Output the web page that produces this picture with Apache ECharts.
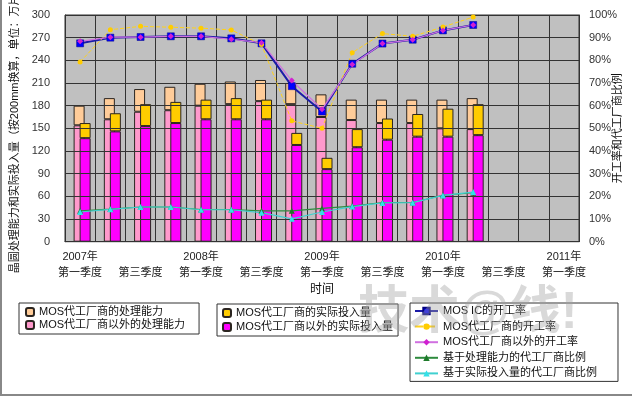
<!DOCTYPE html>
<html>
<head>
<meta charset="utf-8">
<script src="https://cdn.jsdelivr.net/npm/echarts@6/dist/echarts.min.js"></script>
<style>
  html, body { margin: 0; padding: 0; background: #fff; }
  #chart { width: 632px; height: 397px; }
</style>
</head>
<body>
<div id="chart"></div>
<script>
const FONT = "'Liberation Sans', 'Noto Sans CJK SC', sans-serif";

// 2007 Q1 .. 2011 Q1
const quarters = ['2007Q1', '2007Q2', '2007Q3', '2007Q4', '2008Q1', '2008Q2', '2008Q3', '2008Q4',
  '2009Q1', '2009Q2', '2009Q3', '2009Q4', '2010Q1', '2010Q2', '2010Q3', '2010Q4', '2011Q1'];
const tickLabels = ['2007年\n第一季度', '', ' \n第三季度', '', '2008年\n第一季度', '', ' \n第三季度', '',
  '2009年\n第一季度', '', ' \n第三季度', '', '2010年\n第一季度', '', ' \n第三季度', '', '2011年\n第一季度'];
const leftTicks = [0, 30, 60, 90, 120, 150, 180, 210, 240, 270, 300];

// stacked bars, 万片
const capOther = [154, 162, 172, 174, 180, 182, 186, 182, 165, 161, 157, 157, 150, 149];
const capFoundry = [26, 28, 30, 31, 29, 30, 28, 28, 30, 27, 31, 31, 38, 41];
const actOther = [137, 146, 153, 157, 162, 162, 162, 128, 96, 125, 135, 139, 139, 141];
const actFoundry = [20, 24, 29, 28, 26, 28, 26, 16, 15, 24, 28, 30, 37, 41];

// lines, %
const mosIcRate = [87.5, 90, 90.3, 90.6, 90.6, 89.7, 87.5, 68.6, 57.4, 78.5, 87.4, 89.1, 93.2, 95.6];
const foundryRate = [79.3, 93.5, 95, 94.6, 94.2, 93.4, 87, 53.3, 50, 83.4, 91.8, 90.6, 94.7, 99.1];
const otherRate = [88.4, 90.2, 90.2, 90.6, 90.6, 89.3, 87.8, 71.1, 58.4, 78.2, 87.4, 89.1, 93.2, 95.6];
const capShare = [13.6, 14.4, 15.3, 15.3, 14.2, 14.2, 13.6, 13.6, 14.7, 15.7, 17.3, 17.3, 20.5, 21.6];
const actShare = [13.1, 14.3, 15.3, 15.3, 14.1, 14.1, 12.8, 10.1, 13.1, 15.5, 17.1, 17.2, 20.4, 21.9];

const chart = echarts.init(document.getElementById('chart'));

const barBase = {
  type: 'bar',
  barWidth: 11,
  barGap: '-45.45%',
  itemStyle: {borderColor: '#2b2520', borderWidth: 1},
};
const lineBase = {
  type: 'line',
  yAxisIndex: 1,
  z: 5,
};
const legendBase = {
  orient: 'vertical',
  borderColor: '#333',
  borderWidth: 1,
  backgroundColor: '#fff',
  itemTextGap: 4,
  textStyle: {fontSize: 11, lineHeight: 12, color: '#111', fontFamily: FONT},
};

chart.setOption({
  backgroundColor: '#fff',
  animation: false,
  textStyle: {fontFamily: FONT},
  grid: {left: 65, right: 53, top: 15, bottom: 155.3, show: true,
    backgroundColor: '#c0c0c0', borderColor: '#333', borderWidth: 1, outerBoundsMode: 'none'},
  xAxis: {
    type: 'category',
    data: quarters,
    z: 3,
    name: '时间',
    nameLocation: 'middle',
    nameGap: 42,
    nameMoveOverlap: false,
    nameTextStyle: {fontSize: 12, color: '#111', fontFamily: FONT},
    axisLine: {lineStyle: {color: '#333'}},
    axisTick: {show: false},
    splitLine: {show: true, interval: 0, lineStyle: {color: '#333', width: 1}},
    axisLabel: {
      interval: 0, margin: 8, fontSize: 11, lineHeight: 15.5, color: '#222', fontFamily: FONT,
      verticalAlign: 'top',
      formatter: (v, i) => tickLabels[i],
    },
  },
  yAxis: [{
    type: 'value',
    min: leftTicks[0],
    max: leftTicks[leftTicks.length - 1],
    interval: 30,
    z: 3,
    name: '晶圆处理能力和实际投入量（按200mm换算，单位：万片）',
    nameLocation: 'middle',
    nameRotate: 90,
    nameGap: 45,
    nameMoveOverlap: false,
    nameTextStyle: {fontSize: 11, color: '#111', fontFamily: FONT},
    axisLine: {show: true, lineStyle: {color: '#333'}},
    axisTick: {show: false},
    splitLine: {show: true, lineStyle: {color: '#333', width: 1}},
    axisLabel: {margin: 15, fontSize: 11, color: '#333', fontFamily: FONT},
  }, {
    type: 'value',
    min: 0,
    max: 100,
    interval: 10,
    z: 3,
    name: '开工率和代工厂商比例',
    nameLocation: 'middle',
    nameRotate: 90,
    nameGap: 33,
    nameMoveOverlap: false,
    nameTextStyle: {fontSize: 11, color: '#111', fontFamily: FONT},
    axisLine: {show: true, lineStyle: {color: '#333'}},
    axisTick: {show: false},
    splitLine: {show: false},
    axisLabel: {margin: 10, fontSize: 11, color: '#333', fontFamily: FONT, formatter: '{value}%'},
  }],
  legend: [
    Object.assign({}, legendBase, {
      data: ['MOS代工厂商的处理能力', 'MOS代工厂商以外的处理能力'],
      left: 19, top: 303, padding: [3, 14, 3, 6], itemWidth: 8, itemHeight: 8, itemGap: 1,
    }),
    Object.assign({}, legendBase, {
      data: ['MOS代工厂商的实际投入量', 'MOS代工厂商以外的实际投入量'],
      left: 217, top: 304, padding: [3, 5, 3, 5], itemWidth: 8, itemHeight: 8, itemGap: 2,
    }),
    Object.assign({}, legendBase, {
      data: ['MOS IC的开工率', 'MOS代工厂商的开工率', 'MOS代工厂商以外的开工率',
        '基于处理能力的代工厂商比例', '基于实际投入量的代工厂商比例'],
      left: 410, top: 303, padding: [2, 21, 2, 4], itemWidth: 23, itemHeight: 8, itemGap: 3.6,
      itemTextGap: 1,
    }),
  ],
  graphic: [{
    type: 'rect',
    silent: true,
    shape: {x: 1, y: -10, width: 700, height: 405},
    style: {fill: 'none', stroke: '#888', lineWidth: 2},
    z: 50,
  }, {
    type: 'text',
    left: 358,
    top: 288,
    z: 100,
    silent: true,
    style: {text: '技术@线!', fontSize: 51, fontWeight: 'bold', fontFamily: FONT,
      fill: 'rgba(160,160,160,0.4)'},
  }],
  series: [
    Object.assign({}, barBase, {name: 'MOS代工厂商以外的处理能力', stack: 'cap', data: capOther,
      itemStyle: Object.assign({}, barBase.itemStyle, {color: '#ff99cc'})}),
    Object.assign({}, barBase, {name: 'MOS代工厂商的处理能力', stack: 'cap', data: capFoundry,
      itemStyle: Object.assign({}, barBase.itemStyle, {color: '#ffcc99'})}),
    Object.assign({}, barBase, {name: 'MOS代工厂商以外的实际投入量', stack: 'act', data: actOther,
      itemStyle: Object.assign({}, barBase.itemStyle, {color: '#ff00ff'})}),
    Object.assign({}, barBase, {name: 'MOS代工厂商的实际投入量', stack: 'act', data: actFoundry,
      itemStyle: Object.assign({}, barBase.itemStyle, {color: '#ffcc00'})}),
    // empty spacer so the bar pair sits like in the original (slightly right of centre)
    Object.assign({}, barBase, {name: '_pad', stack: 'pad', barWidth: 0.2, data: []}),

    Object.assign({}, lineBase, {name: 'MOS IC的开工率', data: mosIcRate,
      symbol: 'rect', symbolSize: 7,
      lineStyle: {color: '#1c1ca8', width: 2},
      itemStyle: {color: '#0000ff', borderColor: '#000080', borderWidth: 0.5}}),
    Object.assign({}, lineBase, {name: 'MOS代工厂商的开工率', data: foundryRate,
      symbol: 'circle', symbolSize: 5,
      lineStyle: {color: '#ffd21a', width: 1, type: 'dashed'},
      itemStyle: {color: '#ffcc00'}}),
    Object.assign({}, lineBase, {name: 'MOS代工厂商以外的开工率', data: otherRate,
      symbol: 'diamond', symbolSize: 6,
      lineStyle: {color: '#d070e0', width: 1.2},
      itemStyle: {color: '#d020d0'}}),
    Object.assign({}, lineBase, {name: '基于处理能力的代工厂商比例', data: capShare,
      symbol: 'triangle', symbolSize: 6,
      lineStyle: {color: '#2e8b3e', width: 1.2},
      itemStyle: {color: '#1d7a2a'}}),
    Object.assign({}, lineBase, {name: '基于实际投入量的代工厂商比例', data: actShare,
      symbol: 'triangle', symbolSize: 6,
      lineStyle: {color: '#40d0d0', width: 1.2},
      itemStyle: {color: '#33e0e8'}}),
  ],
});
</script>
</body>
</html>
